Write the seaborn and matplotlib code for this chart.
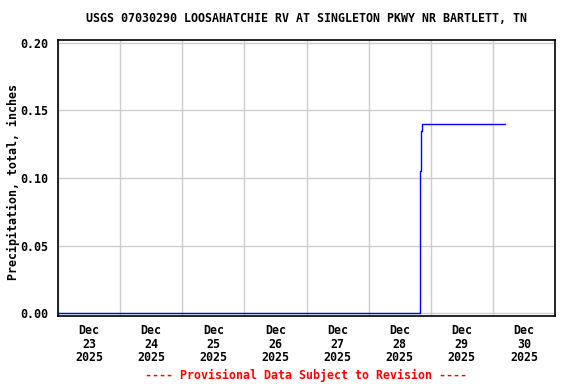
import matplotlib
matplotlib.use("Agg")
import matplotlib.pyplot as plt
import matplotlib.dates as mdates
import pandas as pd
import seaborn as sns

TITLE = "USGS 07030290 LOOSAHATCHIE RV AT SINGLETON PKWY NR BARTLETT, TN"
YLABEL = "Precipitation, total, inches"
FOOTER = "---- Provisional Data Subject to Revision ----"

times = ["2025-12-23 00:00", "2025-12-28 19:30", "2025-12-28 19:45",
         "2025-12-28 20:00", "2025-12-28 20:15", "2025-12-28 20:30",
         "2025-12-30 04:30"]
precip = [0.00, 0.00, 0.01, 0.105, 0.135, 0.14, 0.14]
yticks = [0.00, 0.05, 0.10, 0.15, 0.20]

df = pd.DataFrame({"time": pd.to_datetime(times), "precip": precip})

sns.set_style("white")
plt.rcParams.update({
    "font.family": ["DejaVu Sans Mono"], "font.weight": "bold",
    "text.color": "black", "xtick.color": "black", "ytick.color": "black",
    "axes.labelcolor": "black",
})
FS = 8.4

fig = plt.figure(figsize=(5.76, 3.84), dpi=100)
ax = fig.add_axes([58 / 576, 1 - 316 / 384, 497 / 576, 276 / 384])

sns.lineplot(data=df, x="time", y="precip", ax=ax, color="#0000ff",
             linewidth=1.0, drawstyle="steps-post")

ax.set_xlim(pd.Timestamp("2025-12-23"), pd.Timestamp("2025-12-31"))
ax.set_ylim(-0.0022, 0.2022)
ax.set_yticks(yticks)
ax.set_yticklabels([f"{v:.2f}" for v in yticks], fontsize=FS, fontweight="bold")

# gridlines at midnight, labels at noon
ax.xaxis.set_major_locator(mdates.DayLocator())
ax.xaxis.set_major_formatter(plt.NullFormatter())
ax.xaxis.set_minor_locator(mdates.HourLocator(byhour=[12]))
ax.xaxis.set_minor_formatter(mdates.DateFormatter("%b\n%d\n%Y"))
for lab in ax.xaxis.get_minorticklabels():
    lab.set_fontsize(FS)
    lab.set_fontweight("bold")
    lab.set_linespacing(1.05)

ax.tick_params(axis="both", which="both", length=0)
ax.tick_params(axis="y", pad=7)
ax.tick_params(axis="x", which="minor", pad=6)

ax.grid(True, which="major", color="#cccccc", linewidth=1.0)
ax.set_axisbelow(True)
for s in ax.spines.values():
    s.set_color("black")
    s.set_linewidth(1.2)

ax.set_xlabel("")
ax.set_ylabel("")
fig.text(13 / 576, 1 - 182 / 384, YLABEL, rotation=90, ha="center", va="center",
         fontsize=FS, fontweight="bold")

fig.text(306 / 576, 1 - 19 / 384, TITLE, ha="center", va="center",
         fontsize=FS, fontweight="bold")
fig.text(306 / 576, 1 - 375 / 384, FOOTER, ha="center", va="center",
         fontsize=FS, fontweight="bold", color="#ff0000")

fig.savefig("out.png", dpi=100)
